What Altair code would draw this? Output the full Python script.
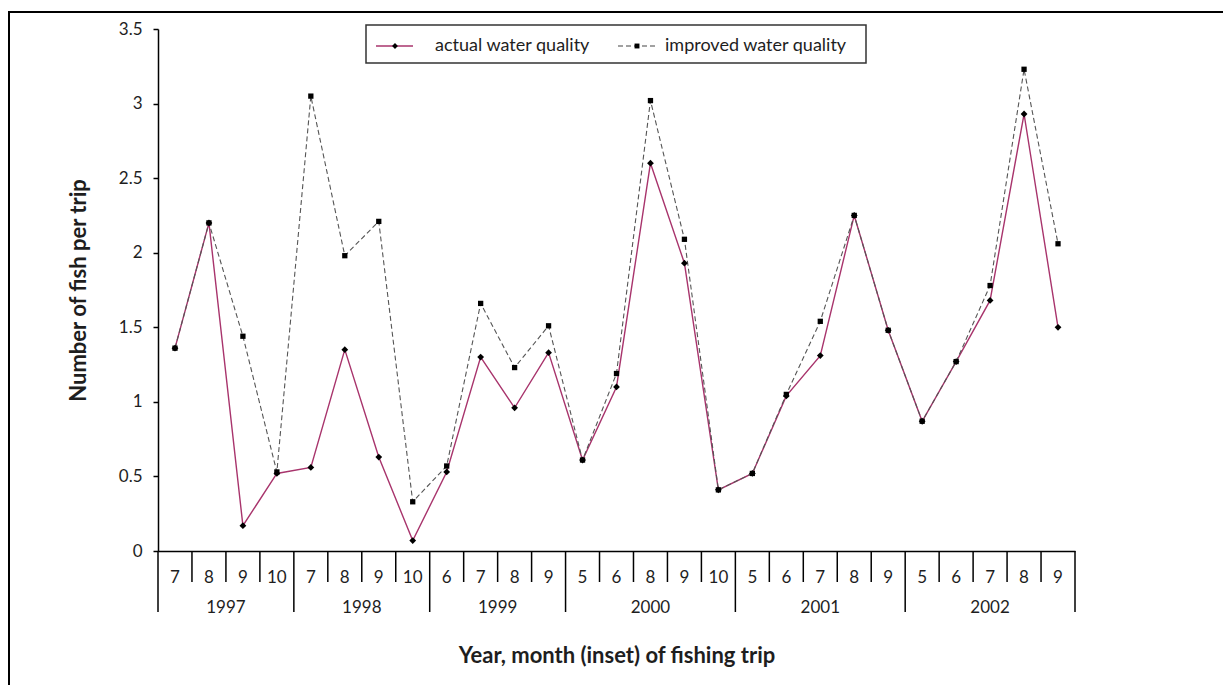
import altair as alt
import pandas as pd

YEARS = [1997] * 4 + [1998] * 4 + [1999] * 4 + [2000] * 5 + [2001] * 5 + [2002] * 5
MONTHS = [7, 8, 9, 10, 7, 8, 9, 10, 6, 7, 8, 9, 5, 6, 8, 9, 10, 5, 6, 7, 8, 9, 5, 6, 7, 8, 9]
ACTUAL = [1.36, 2.20, 0.17, 0.52, 0.56, 1.35, 0.63, 0.07, 0.53, 1.30, 0.96, 1.33,
          0.61, 1.10, 2.60, 1.93, 0.41, 0.52, 1.04, 1.31, 2.25, 1.48,
          0.87, 1.27, 1.68, 2.93, 1.50]
IMPROVED = [1.36, 2.20, 1.44, 0.53, 3.05, 1.98, 2.21, 0.33, 0.57, 1.66, 1.23, 1.51,
            0.61, 1.19, 3.02, 2.09, 0.41, 0.52, 1.05, 1.54, 2.25, 1.48,
            0.87, 1.27, 1.78, 3.23, 2.06]
SERIES = ["actual water quality", "improved water quality"]
Y_TICKS = [0, 0.5, 1, 1.5, 2, 2.5, 3, 3.5]
X_TITLE = "Year, month (inset) of fishing trip"
Y_TITLE = "Number of fish per trip"

FONT = "Lato"
W, H = 917, 522
PINK = "#a8346c"
TXT = "#1e1e1e"

n = len(MONTHS)
df_act = pd.DataFrame({"idx": range(n), "year": YEARS, "month": MONTHS, "value": ACTUAL})
df_imp = pd.DataFrame({"idx": range(n), "year": YEARS, "month": MONTHS, "value": IMPROVED})

bounds = []
for i in range(n + 1):
    long = i == 0 or i == n or YEARS[i] != YEARS[i - 1]
    bounds.append({"b": i - 0.5, "long": long})
df_b = pd.DataFrame(bounds)
df_short = df_b[~df_b["long"]]
df_long = df_b[df_b["long"]]

df_year = df_act.groupby("year", as_index=False)["idx"].mean()
df_year["label"] = df_year["year"].astype(str)
df_act["mlabel"] = df_act["month"].astype(str)

xs = alt.Scale(domain=[-0.5, n - 0.5], nice=False, zero=False)
ys = alt.Scale(domain=[0, 3.5], nice=False)

xaxis = alt.Axis(title=X_TITLE, labels=False, ticks=False, grid=False,
                 domainColor="black", domainWidth=1.5,
                 titleFont=FONT, titleFontSize=22, titleFontWeight="bold",
                 titleColor=TXT, titleY=104, titleBaseline="middle")
yaxis = alt.Axis(title=Y_TITLE, values=Y_TICKS, labelExpr="datum.value + ''",
                 grid=False, tickSize=5, tickColor="black", tickWidth=1.5,
                 domainColor="black", domainWidth=1.5,
                 labelFont=FONT, labelFontSize=17, labelPadding=11, labelColor=TXT,
                 titleFont=FONT, titleFontSize=22, titleFontWeight="bold",
                 titleColor=TXT, titleX=-80, titleY=H / 2, titleAngle=-90,
                 titleBaseline="middle", titleAlign="center")

X = alt.X("idx:Q", scale=xs, axis=xaxis)
Y = alt.Y("value:Q", scale=ys, axis=yaxis)

line_act = alt.Chart(df_act).mark_line(color=PINK, strokeWidth=1.4).encode(x=X, y=Y)
line_imp = alt.Chart(df_imp).mark_line(color="#555", strokeWidth=1.1, strokeDash=[5, 3]).encode(x=X, y=Y)
pts_imp = alt.Chart(df_imp).mark_point(shape="square", filled=True, color="black", size=28, opacity=1).encode(x=X, y=Y)
pts_act = alt.Chart(df_act).mark_point(shape="diamond", filled=True, color="black", size=46, opacity=1).encode(x=X, y=Y)

XB = alt.X("b:Q", scale=xs, axis=xaxis)
ticks_short = alt.Chart(df_short).mark_rule(color="black", strokeWidth=1.5).encode(
    x=XB, y=alt.value(H), y2=alt.value(H + 31))
ticks_long = alt.Chart(df_long).mark_rule(color="black", strokeWidth=1.5).encode(
    x=XB, y=alt.value(H), y2=alt.value(H + 61))

month_text = alt.Chart(df_act).mark_text(font=FONT, fontSize=17, color=TXT, baseline="middle").encode(
    x=X, y=alt.value(H + 27), text="mlabel:N")
year_text = alt.Chart(df_year).mark_text(font=FONT, fontSize=17, color=TXT, baseline="middle").encode(
    x=X, y=alt.value(H + 57), text="label:N")

one = pd.DataFrame({"k": [0]})
frame = alt.Chart(one).mark_rect(fillOpacity=0, stroke="black", strokeWidth=2).encode(
    x=alt.value(-149), x2=alt.value(1400), y=alt.value(-17), y2=alt.value(900))

# legend
leg_box = alt.Chart(one).mark_rect(fill="white", stroke="#333", strokeWidth=1.5).encode(
    x=alt.value(208), x2=alt.value(708), y=alt.value(-4), y2=alt.value(34))
leg_l1 = alt.Chart(one).mark_rule(color=PINK, strokeWidth=1.5).encode(
    x=alt.value(218), x2=alt.value(255), y=alt.value(17))
leg_p1 = alt.Chart(one).mark_point(shape="diamond", filled=True, color="black", size=34, opacity=1).encode(
    x=alt.value(237), y=alt.value(17))
leg_t1 = alt.Chart(pd.DataFrame({"name": [SERIES[0]]})).mark_text(
    font=FONT, fontSize=18, color=TXT, align="left", baseline="middle").encode(
    x=alt.value(277), y=alt.value(17), text="name:N")
leg_l2 = alt.Chart(one).mark_rule(color="#444", strokeWidth=1.2, strokeDash=[5, 3]).encode(
    x=alt.value(460), x2=alt.value(498), y=alt.value(17))
leg_p2 = alt.Chart(one).mark_point(shape="square", filled=True, color="black", size=24, opacity=1).encode(
    x=alt.value(479), y=alt.value(17))
leg_t2 = alt.Chart(pd.DataFrame({"name": [SERIES[1]]})).mark_text(
    font=FONT, fontSize=18, color=TXT, align="left", baseline="middle").encode(
    x=alt.value(507), y=alt.value(17), text="name:N")

chart = alt.layer(
    frame, line_act, line_imp, pts_imp, pts_act,
    ticks_short, ticks_long, month_text, year_text,
    leg_box, leg_l1, leg_p1, leg_t1, leg_l2, leg_p2, leg_t2,
).properties(
    width=W, height=H,
    autosize=alt.AutoSizeParams(type="none"),
    padding={"left": 150, "top": 21, "right": 148, "bottom": 134},
    background="white",
).configure_view(stroke=None)

chart.save("out.html", embed_options={"renderer": "svg", "actions": False})
